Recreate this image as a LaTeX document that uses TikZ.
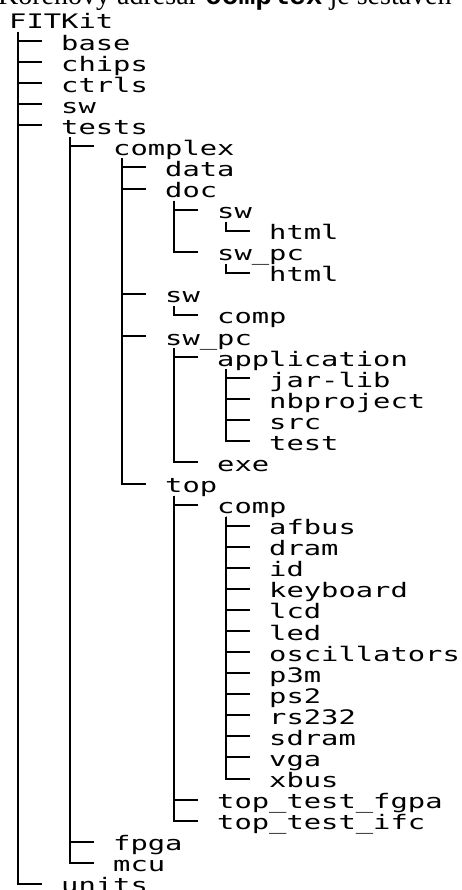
\documentclass[tikz,border=0pt]{standalone}
\usepackage{fontspec}
\newfontfamily\pxfont[FakeStretch=1.44]{DejaVu Sans Mono}
\newfontfamily\capserif{Liberation Serif}
\newfontfamily\capmono{Liberation Mono}
\tikzset{
  lbl/.style={anchor=base west, inner sep=0pt, font=\pxfont\fontsize{20}{20}\selectfont},
  tree/.style={line width=2pt, black},
}
\newcommand\fnode[4]{\node[lbl] (#1) at ({52*#2+9},{29+21.07*#3}) {#4};}
\newcommand\fconn[2]{\draw[tree] ([xshift=8.5pt,yshift=-3pt]#1.base west) |- ([xshift=-19pt,yshift=9pt]#2.base west);}
\begin{document}
\begin{tikzpicture}[x=1pt,y=-1pt]
\useasboundingbox (0,0) rectangle (462,890);
\fill[white] (0,0) rectangle (462,890);
\clip (0,0) rectangle (462,890);
\node[anchor=base west, inner sep=0pt, font=\capserif\fontsize{28}{28}\selectfont] (caption) at (-2,5) {Kořenový adresář {\capmono\bfseries complex} je sestaven};
\fnode{root}{0}{0}{FITKit}
\fnode{base}{1}{1}{base}
\fnode{chips}{1}{2}{chips}
\fnode{ctrls}{1}{3}{ctrls}
\fnode{swa}{1}{4}{sw}
\fnode{tests}{1}{5}{tests}
\fnode{complex}{2}{6}{complex}
\fnode{data}{3}{7}{data}
\fnode{doc}{3}{8}{doc}
\fnode{dsw}{4}{9}{sw}
\fnode{dswhtml}{5}{10}{html}
\fnode{dswpc}{4}{11}{sw\_pc}
\fnode{dswpchtml}{5}{12}{html}
\fnode{csw}{3}{13}{sw}
\fnode{cswcomp}{4}{14}{comp}
\fnode{cswpc}{3}{15}{sw\_pc}
\fnode{app}{4}{16}{application}
\fnode{jarlib}{5}{17}{jar-lib}
\fnode{nbproject}{5}{18}{nbproject}
\fnode{src}{5}{19}{src}
\fnode{test}{5}{20}{test}
\fnode{exe}{4}{21}{exe}
\fnode{top}{3}{22}{top}
\fnode{tcomp}{4}{23}{comp}
\fnode{afbus}{5}{24}{afbus}
\fnode{dram}{5}{25}{dram}
\fnode{id}{5}{26}{id}
\fnode{keyboard}{5}{27}{keyboard}
\fnode{lcd}{5}{28}{lcd}
\fnode{led}{5}{29}{led}
\fnode{osc}{5}{30}{oscillators}
\fnode{ptm}{5}{31}{p3m}
\fnode{pstwo}{5}{32}{ps2}
\fnode{rs}{5}{33}{rs232}
\fnode{sdram}{5}{34}{sdram}
\fnode{vga}{5}{35}{vga}
\fnode{xbus}{5}{36}{xbus}
\fnode{ttf}{4}{37}{top\_test\_fgpa}
\fnode{tti}{4}{38}{top\_test\_ifc}
\fnode{fpga}{2}{39}{fpga}
\fnode{mcu}{2}{40}{mcu}
\fnode{units}{1}{41}{units}
\foreach \c in {base,chips,ctrls,swa,tests,units} {\fconn{root}{\c}}
\foreach \c in {complex,fpga,mcu} {\fconn{tests}{\c}}
\foreach \c in {data,doc,csw,cswpc,top} {\fconn{complex}{\c}}
\foreach \c in {dsw,dswpc} {\fconn{doc}{\c}}
\fconn{dsw}{dswhtml}
\fconn{dswpc}{dswpchtml}
\fconn{csw}{cswcomp}
\foreach \c in {app,exe} {\fconn{cswpc}{\c}}
\foreach \c in {jarlib,nbproject,src,test} {\fconn{app}{\c}}
\foreach \c in {tcomp,ttf,tti} {\fconn{top}{\c}}
\foreach \c in {afbus,dram,id,keyboard,lcd,led,osc,ptm,pstwo,rs,sdram,vga,xbus} {\fconn{tcomp}{\c}}
\end{tikzpicture}
\end{document}
